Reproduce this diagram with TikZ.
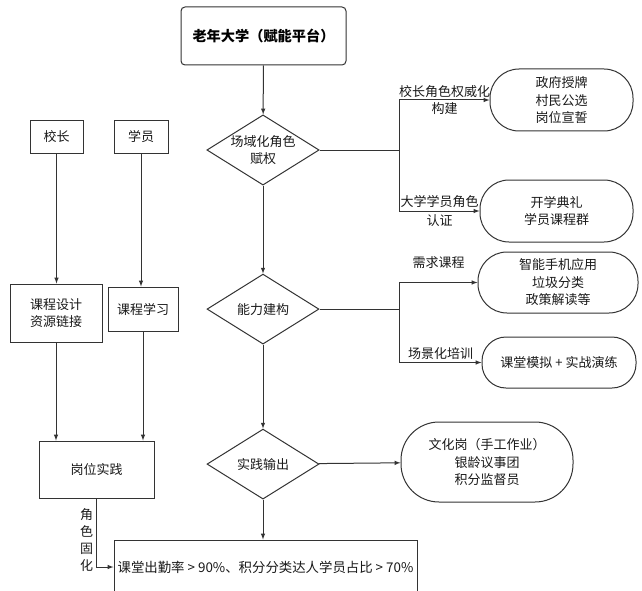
\documentclass[tikz,border=0pt]{standalone}
\usepackage{fontspec}
\setmainfont{Noto Sans CJK SC}
\usetikzlibrary{shapes.geometric, arrows, positioning, calc}

\begin{document}
\begin{tikzpicture}[x=1pt, y=-1pt, font=\fontsize{13}{17.5}\selectfont, black!80]
    % Styles
    \tikzstyle{platform} = [rectangle, draw, rounded corners=4pt, minimum width=165pt, minimum height=58pt, line width=1pt, text=black, font=\bfseries\fontsize{14.2}{16}\selectfont]
    \tikzstyle{block} = [rectangle, draw, align=center, inner sep=2pt, line width=1pt, text=black!90]
    \tikzstyle{pill} = [rectangle, draw, rounded corners=29pt, align=center, line width=1pt, text=black!90]
    \tikzstyle{decision} = [diamond, draw, aspect=1.6, inner sep=0pt, minimum width=112pt, minimum height=70pt, align=center, line width=1pt, text=black!90]
    \tikzstyle{line} = [draw, -latex, line width=1pt]
    \tikzstyle{plain} = [draw, line width=1pt]
    \tikzstyle{tag} = [align=center, inner sep=1pt, text=black!90]

    \useasboundingbox (0,0) rectangle (642,591);

    % Nodes
    \node [platform] (hub) at (263.5,36) {老年大学（赋能平台）};
    \node [decision] (assign) at (263,150) {场域化角色\\赋权};
    \node [decision, below=88pt of assign] (build) {能力建构};
    \node [decision, below=84pt of build] (output) {实践输出};

    % Side nodes
    \node [pill, minimum width=143pt, minimum height=62pt] (license) at (561.5,100) {政府授牌\\村民公选\\岗位宣誓};
    \node [pill, minimum width=153pt, minimum height=62pt] (opening) at (556.5,211) {开学典礼\\学员课程群};
    \node [pill, minimum width=160pt, minimum height=61pt] (demand) at (558,282.5) {智能手机应用\\垃圾分类\\政策解读等};
    \node [pill, rounded corners=24pt, minimum width=154pt, minimum height=51pt] (drill) at (559,362.5) {课堂模拟 + 实战演练};
    \node [pill, rounded corners=38pt, minimum width=172pt, minimum height=80pt] (career) at (487,462) {文化岗（手工作业）\\银龄议事团\\积分监督员};

    % Left column
    \node [block, minimum width=53pt, minimum height=32pt] (head) at (56.5,137) {校长};
    \node [block, minimum width=54pt, minimum height=32pt, right=30pt of head] (learner) {学员};
    \node [block, minimum width=92pt, minimum height=58pt] (design) at (56,313) {课程设计\\资源链接};
    \node [block, minimum width=70pt, minimum height=44pt] (study) at (143,309) {课程学习};
    \node [block, minimum width=115pt, minimum height=57pt] (practice) at (96.5,469.5) {岗位实践};
    \node [block, inner sep=1pt, minimum width=303pt, minimum height=54pt, font=\fontsize{13.4}{16}\selectfont] (goal) at (265.5,567) {课堂出勤率 > 90\%、积分分类达人学员占比 > 70\%};

    % Forks
    \coordinate (fork1) at ($(assign.east)+(80pt,0)$);
    \coordinate (fork2) at ($(build.east)+(80pt,0)$);

    % Paths
    \path [line] (hub) -- (assign);
    \path [line] (assign) -- (build);
    \path [line] (build) -- (output);
    \path [line] (output) -- (output |- goal.north);
    \path [line] (output) -- (career);
    \path [plain] (assign) -- (fork1);
    \path [line] (fork1) |- node[tag, pos=0.75] {校长角色权威化\\构建} (license);
    \path [line] (fork1) |- node[tag, pos=0.75, font=\fontsize{13}{20}\selectfont] {大学学员角色\\认证} (opening);
    \path [plain] (build) -- (fork2);
    \path [line] (fork2) |- node[tag, pos=0.75, above=12pt] {需求课程} (demand);
    \path [line] (fork2) |- node[tag, pos=0.75, above=1pt] {场景化培训} (drill);
    \path [line] (head) -- (head |- design.north);
    \path [line] (learner) -- (learner |- study.north);
    \path [line] (design) -- (design |- practice.north);
    \path [line] (study) -- (study |- practice.north);
    \path [line] (practice) |- node[tag, left=2pt, pos=0.3, font=\fontsize{13}{17}\selectfont] {角\\色\\固\\化} (goal);
\end{tikzpicture}
\end{document}
